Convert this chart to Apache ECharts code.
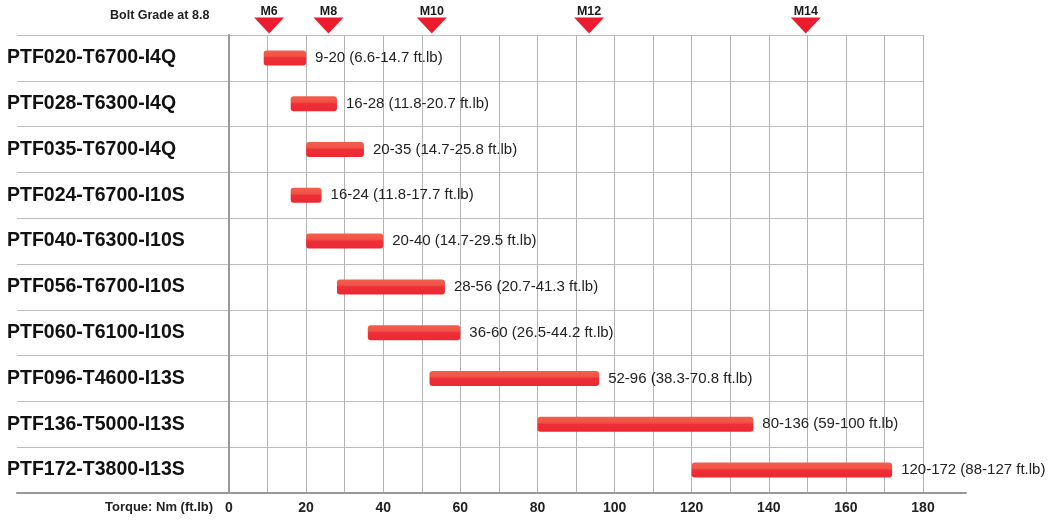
<!DOCTYPE html>
<html>
<head>
<meta charset="utf-8">
<script src="https://cdn.jsdelivr.net/npm/echarts@6/dist/echarts.min.js"></script>
<style>
  html, body { margin: 0; padding: 0; background: #fff; }
  #main { width: 1051px; height: 523px; }
</style>
</head>
<body>
<div id="main"></div>
<script>
// 数据
const categories = ['PTF020-T6700-I4Q', 'PTF028-T6300-I4Q', 'PTF035-T6700-I4Q', 'PTF024-T6700-I10S', 'PTF040-T6300-I10S',
  'PTF056-T6700-I10S', 'PTF060-T6100-I10S', 'PTF096-T4600-I13S', 'PTF136-T5000-I13S', 'PTF172-T3800-I13S'];
const lows = [9, 16, 20, 16, 20, 28, 36, 52, 80, 120];
const highs = [20, 28, 35, 24, 40, 56, 60, 96, 136, 172];
const ftlb = ['6.6-14.7', '11.8-20.7', '14.7-25.8', '11.8-17.7', '14.7-29.5', '20.7-41.3', '26.5-44.2', '38.3-70.8', '59-100', '88-127'];
const boltSizes = ['M6', 'M8', 'M10', 'M12', 'M14'];
const boltTorque = [10.4, 25.8, 52.6, 93.4, 149.6];

const font = 'Liberation Sans, Arial, sans-serif';
const myChart = echarts.init(document.getElementById('main'));

const option = {
  animation: false,
  title: [
    { text: 'Bolt Grade at 8.8', left: 110, top: 9, padding: 0,
      textStyle: { fontFamily: font, fontSize: 12.5, fontWeight: 'bold', color: '#222' } },
    { text: 'Torque: Nm (ft.lb)', left: 105, top: 501, padding: 0,
      textStyle: { fontFamily: font, fontSize: 13, fontWeight: 'bold', color: '#222' } }
  ],
  grid: [
    { left: 229, right: 128, top: 35, bottom: 30 },   // 主图
    { left: 17, right: 128, top: 35, bottom: 30 },    // 行分隔线
    { left: 17, right: 85, top: 35, bottom: 30 },     // 底部轴线
    { left: 229, right: 128, top: 0, height: 35 }     // 螺栓标记
  ],
  xAxis: [
    {
      gridIndex: 0, type: 'value', min: 0, max: 180, interval: 10,
      axisLine: { show: false }, axisTick: { show: false },
      axisLabel: {
        margin: 8, fontFamily: font, fontSize: 14, fontWeight: 'bold', color: '#222',
        formatter: v => (v % 20 === 0 ? v : '')
      },
      splitLine: { show: true, lineStyle: { color: '#b4b4b4', width: 1 } }
    },
    { gridIndex: 1, type: 'value', show: false },
    {
      gridIndex: 2, type: 'value', min: 0, max: 1,
      axisLine: { show: true, lineStyle: { color: '#999', width: 2 } },
      axisTick: { show: false }, axisLabel: { show: false }, splitLine: { show: false }
    },
    { gridIndex: 3, type: 'value', min: 0, max: 180, show: false }
  ],
  yAxis: [
    {
      gridIndex: 0, type: 'category', data: categories, inverse: true,
      axisLine: { show: true, lineStyle: { color: '#999', width: 2 } },
      axisTick: { show: false },
      axisLabel: {
        align: 'left', margin: 222, fontFamily: font, fontSize: 19.5, fontWeight: 'bold', color: '#111'
      },
      splitLine: { show: false }
    },
    {
      gridIndex: 1, type: 'category', data: categories, inverse: true,
      axisLine: { show: false }, axisTick: { show: false }, axisLabel: { show: false },
      splitLine: { show: true, lineStyle: { color: '#bdbdbd', width: 1 } }
    },
    { gridIndex: 2, type: 'value', show: false },
    { gridIndex: 3, type: 'value', min: 0, max: 1, show: false }
  ],
  series: [
    {
      type: 'bar', stack: 'range', xAxisIndex: 0, yAxisIndex: 0,
      data: lows, barWidth: 15, silent: true,
      itemStyle: { color: 'transparent' }
    },
    {
      type: 'bar', stack: 'range', xAxisIndex: 0, yAxisIndex: 0,
      data: highs.map((h, i) => h - lows[i]), barWidth: 15,
      itemStyle: {
        borderRadius: 3,
        color: {
          type: 'linear', x: 0, y: 0, x2: 0, y2: 1,
          colorStops: [
            { offset: 0, color: '#f35e4c' },
            { offset: 0.38, color: '#f15347' },
            { offset: 0.5, color: '#ee2f37' },
            { offset: 1, color: '#ec2832' }
          ]
        }
      },
      label: {
        show: true, position: 'right', distance: 9,
        fontFamily: font, fontSize: 15, color: '#222',
        formatter: p => lows[p.dataIndex] + '-' + highs[p.dataIndex] + ' (' + ftlb[p.dataIndex] + ' ft.lb)'
      }
    },
    {
      type: 'scatter', xAxisIndex: 3, yAxisIndex: 3,
      data: boltTorque.map((v, i) => [v, 0, boltSizes[i]]),
      symbol: 'path://M0,0 L30,0 L15,16 Z', symbolSize: [30, 16], symbolOffset: [0, -9.5],
      itemStyle: { color: '#ec1b2d', opacity: 1 },
      label: {
        show: true, position: 'top', distance: -1,
        fontFamily: font, fontSize: 12.5, fontWeight: 'bold', color: '#1a1a1a',
        formatter: p => p.data[2]
      }
    }
  ]
};
myChart.setOption(option);
</script>
</body>
</html>
